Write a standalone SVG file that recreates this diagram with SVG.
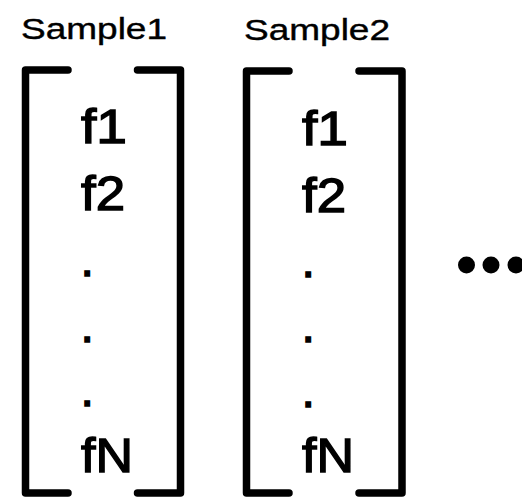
<svg xmlns="http://www.w3.org/2000/svg" width="522" height="498" viewBox="0 0 522 498">
<style>
.br{fill:none;stroke:#000;stroke-width:7.5;stroke-linecap:round;stroke-linejoin:round}
.ttl{font-family:"Liberation Sans",Arial,sans-serif;font-size:30px;fill:#000;stroke:#000;stroke-width:0.4}
.f{font-family:"Liberation Sans",Arial,sans-serif;font-size:48px;fill:#000;stroke:#000;stroke-width:1.4}
.dot{fill:#000}
</style>
<rect width="522" height="498" fill="#fff"/>
<g id="sample1">
<text class="ttl" x="21" y="39" textLength="146" lengthAdjust="spacingAndGlyphs">Sample1</text>
<path class="br" d="M68,70 H25.5 V493 H68"/>
<path class="br" d="M137.5,70 H180.5 V493 H137.5"/>
<text class="f" x="81" y="143" textLength="46" lengthAdjust="spacingAndGlyphs">f1</text>
<text class="f" x="81" y="210" textLength="44" lengthAdjust="spacingAndGlyphs">f2</text>
<text class="f" x="80.5" y="276">.</text>
<text class="f" x="80.5" y="342">.</text>
<text class="f" x="80.5" y="406">.</text>
<text class="f" x="81" y="472" textLength="52" lengthAdjust="spacingAndGlyphs">fN</text>
</g>
<g id="sample2">
<text class="ttl" x="244" y="40" textLength="146" lengthAdjust="spacingAndGlyphs">Sample2</text>
<path class="br" d="M289,71 H246.5 V493 H289"/>
<path class="br" d="M359,71 H402 V493 H359"/>
<text class="f" x="302" y="145" textLength="46" lengthAdjust="spacingAndGlyphs">f1</text>
<text class="f" x="302" y="212" textLength="44" lengthAdjust="spacingAndGlyphs">f2</text>
<text class="f" x="301.5" y="277">.</text>
<text class="f" x="301.5" y="342">.</text>
<text class="f" x="301.5" y="407">.</text>
<text class="f" x="302" y="472" textLength="52" lengthAdjust="spacingAndGlyphs">fN</text>
</g>
<g id="ellipsis">
<circle class="dot" cx="466.5" cy="265" r="8.5"/>
<circle class="dot" cx="491" cy="265" r="8.5"/>
<circle class="dot" cx="516" cy="265" r="8.5"/>
</g>
<g id="connectors"></g>
</svg>
